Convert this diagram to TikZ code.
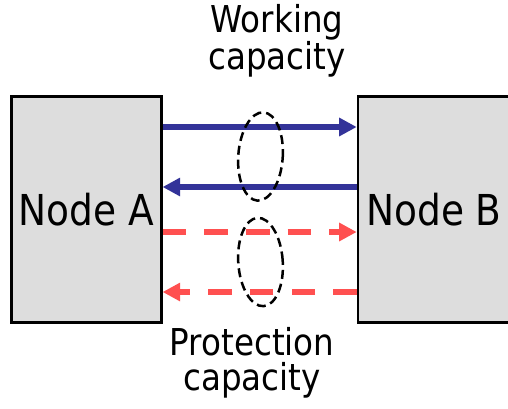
\documentclass[tikz,border=0pt]{standalone}
\usepackage{fontspec}
\newfontfamily\labelfont[FakeStretch=0.88]{DejaVu Sans}
\usetikzlibrary{arrows.meta,shapes.geometric}
\definecolor{workblue}{HTML}{333399}
\definecolor{protred}{HTML}{FF5050}
\definecolor{nodegray}{HTML}{DDDDDD}

\begin{document}
\begin{tikzpicture}[x=1pt,y=-1pt,
  netnode/.style={draw=black, fill=nodegray, line width=2.6pt,
    minimum width=150pt, minimum height=226pt, inner sep=0pt,
    font=\labelfont\fontsize{42.6}{50}\selectfont},
  caption/.style={align=center, inner sep=0pt, anchor=base,
    font=\labelfont\fontsize{37}{35}\selectfont},
  link/.style={line width=6pt, -{Triangle[length=17.5pt,width=17.5pt]}},
  working/.style={link, draw=workblue},
  protection/.style={link, draw=protred, dash pattern=on 23.5pt off 18.2pt},
  group/.style={draw=black, ellipse, line width=2.5pt,
    dash pattern=on 9pt off 5pt, minimum width=44.5pt,
    minimum height=88.5pt, inner sep=0pt}]
\clip (0,0) rectangle (508,408);
\fill[white] (0,0) rectangle (508,408);

% the two network nodes
\node[netnode] (A) at (86.3,209.3) {Node A};
\node[netnode, minimum width=152pt] (B) at (434,209.3) {Node B};

% heights of the four links
\coordinate (l1) at (0,127);
\coordinate (l2) at (0,187);
\coordinate (l3) at (0,232);
\coordinate (l4) at (0,292);

% working links (solid) and protection links (dashed)
\draw[working] (A.east |- l1) -- (B.west |- l1);
\draw[working] (B.west |- l2) -- (A.east |- l2);
\draw[protection] (A.east |- l3) -- (B.west |- l3);
\draw[protection] (B.west |- l4) -- (A.east |- l4);

% groupings of the link pairs
\node[group, rotate=-4] (W) at (260.5,156.5) {};
\node[group, rotate=4] (P) at (260.5,262) {};

% captions (base anchor sits on the last line)
\node[caption] (wc) at (277,69) {Working\\capacity};
\node[caption] (pc) at (252,390) {Protection\\capacity};
\end{tikzpicture}
\end{document}
